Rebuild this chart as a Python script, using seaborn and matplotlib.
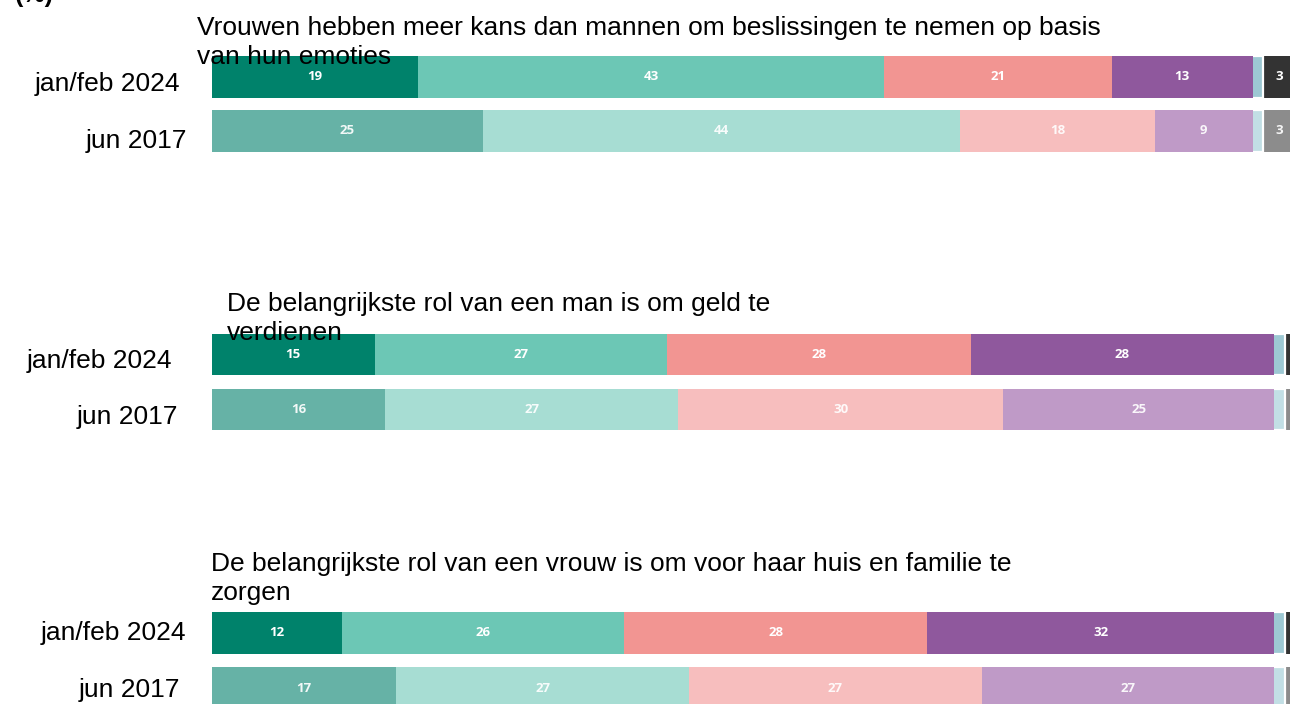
import matplotlib
matplotlib.use("Agg")
import matplotlib.pyplot as plt
import seaborn as sns
import numpy as np
import pandas as pd

# ---------------- data ----------------
periods = ["jan/feb 2024", "jun 2017"]
titles = [
    "Vrouwen hebben meer kans dan mannen om beslissingen te nemen op basis\nvan hun emoties",
    "De belangrijkste rol van een man is om geld te\nverdienen",
    "De belangrijkste rol van een vrouw is om voor haar huis en familie te\nzorgen",
]
# segments: helemaal eens, eens, oneens, helemaal oneens, neutraal, weet niet
q1_2024 = [19, 43, 21, 13, 1, 3]
q1_2017 = [25, 44, 18, 9, 1, 3]
q2_2024 = [15, 27, 28, 28, 1, 1]
q2_2017 = [16, 27, 30, 25, 1, 1]
q3_2024 = [12, 26, 28, 32, 1, 1]
q3_2017 = [17, 27, 27, 27, 1, 1]
unit_label = "(%)"

colors_2024 = ["#00826B", "#6CC7B5", "#F29592", "#8F589D", "#9DC8D3", "#333333"]
colors_2017 = ["#66B2A6", "#A7DDD3", "#F7BEBE", "#BF9AC7", "#C2DFE5", "#8C8C8C"]

panels = [(q1_2024, q1_2017), (q2_2024, q2_2017), (q3_2024, q3_2017)]

# ---------------- layout (pixels) ----------------
W, H = 1290, 704
sns.set_theme(style="white")
plt.rcParams["font.family"] = ["Liberation Sans", "DejaVu Sans"]

fig = plt.figure(figsize=(W / 100, H / 100), dpi=100)
fig.patch.set_facecolor("white")

axes_px = [(50, 158), (327, 437), (605, 716)]           # top, bottom of each panel axes
title_px = [(197, 64), (227, 340), (211, 600)]          # left, last-line baseline of title
label_px = [((180, 91), (187, 148)),                    # right x, baseline y of period labels
            ((172, 368), (178, 424)),
            ((186, 640), (180, 697))]
x_left = 212
xmax = (W - x_left) / 10.84

for i, (v24, v17) in enumerate(panels):
    top, bot = axes_px[i]
    ax = fig.add_axes([x_left / W, (H - bot) / H, (W - x_left) / W, (bot - top) / H])
    vals = np.array([v24, v17], dtype=float)
    cum = vals.cumsum(axis=1)
    ncat = vals.shape[1]
    for k in range(ncat - 1, -1, -1):
        df = pd.DataFrame({"period": periods, "value": cum[:, k]})
        pal = {periods[0]: colors_2024[k], periods[1]: colors_2017[k]}
        kw = dict(linewidth=0)
        if k == ncat - 2:
            kw = dict(linewidth=1.6, edgecolor="white")
        sns.barplot(data=df, x="value", y="period", hue="period", palette=pal,
                    order=periods, hue_order=periods, orient="h", legend=False,
                    width=0.76, saturation=1, ax=ax, **kw)
    # value labels
    for r in range(2):
        for k in range(ncat):
            v = vals[r, k]
            if v >= 3:
                ax.text(cum[r, k] - v / 2, r, f"{int(v)}", ha="center", va="center",
                        color="white", fontsize=9.5, fontweight="bold",
                        family=["Open Sans", "DejaVu Sans"], alpha=1 if r == 0 else 0.92)
    ax.set_xlim(0, xmax)
    ax.set_ylim(1.5, -0.5)
    ax.set_xlabel("")
    ax.set_ylabel("")
    ax.set_xticks([])
    ax.set_yticks([])
    for s in ax.spines.values():
        s.set_visible(False)
    ax.set_facecolor("none")

    # period labels
    for r in range(2):
        lx, ly = label_px[i][r]
        fig.text(lx / W, 1 - ly / H, periods[r], ha="right", va="baseline",
                 fontsize=19, color="black")
    # title
    tx, ty = title_px[i]
    fig.text(tx / W, 1 - ty / H, titles[i], ha="left", va="baseline",
             fontsize=19, color="black", linespacing=1.24)

fig.text(15 / W, 1 - 2 / H, unit_label, ha="left", va="baseline",
         fontsize=18, fontweight="bold", color="black")

fig.savefig("out.png", dpi=100, facecolor="white")
